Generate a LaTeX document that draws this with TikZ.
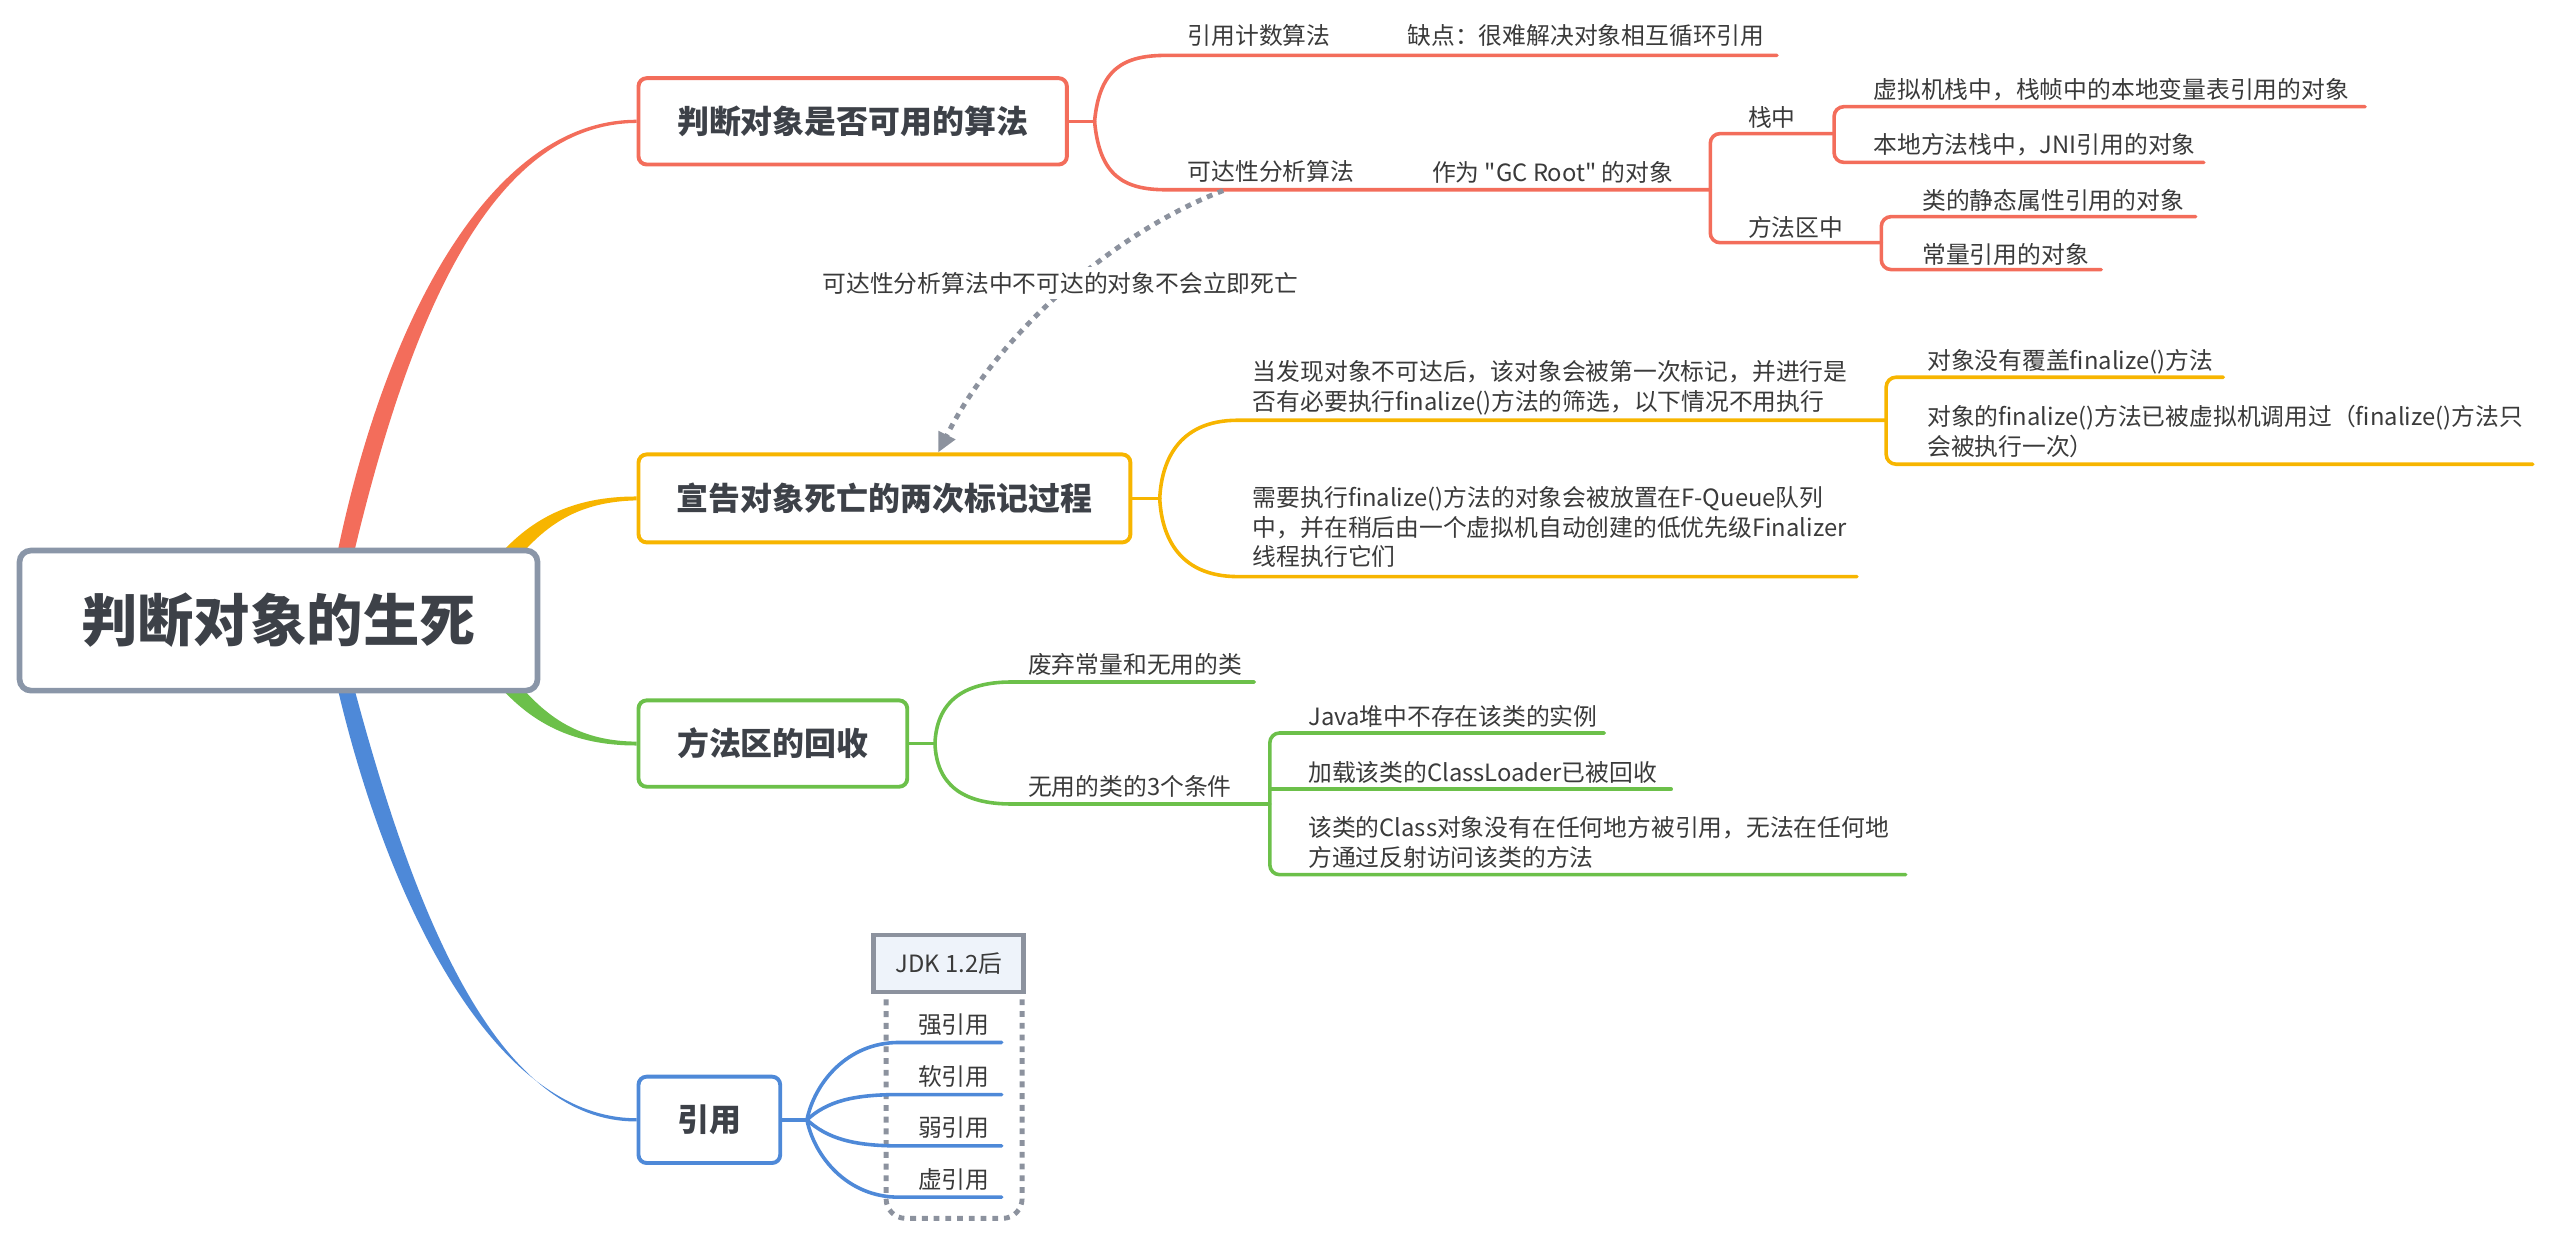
\documentclass[tikz,border=0pt]{standalone}
\usepackage{fontspec}
\setmainfont{Noto Sans CJK SC}[Ligatures=TeXOff]
\usetikzlibrary{calc,arrows.meta,positioning}
\pgfdeclarelayer{background}
\pgfsetlayers{background,main}
\definecolor{rootgray}{HTML}{8A96A8}
\definecolor{redb}{HTML}{F36D5B}
\definecolor{yellowb}{HTML}{F7B500}
\definecolor{greenb}{HTML}{6CC04A}
\definecolor{blueb}{HTML}{4E89D8}
\definecolor{boxtxt}{HTML}{3D4148}
\definecolor{txt}{HTML}{3A3A3A}
\definecolor{dotgray}{HTML}{8C929E}
\definecolor{jdkfill}{HTML}{EEF3FA}

\begin{document}
\begin{tikzpicture}[x=1pt,y=-1pt,
    every node/.style={text=txt,font=\fontsize{14.6}{18.3}\selectfont},
    topic/.style={draw,line width=2.4pt,rounded corners=5pt,fill=white,inner sep=0pt,
        text=boxtxt,font=\fontsize{19.6}{24}\selectfont\bfseries},
    leaf/.style={inner sep=0pt,anchor=west},
    para/.style={inner sep=0pt,anchor=west,align=left},
    link/.style={line width=2.2pt,line cap=round},
    dots/.style={dotgray,line width=3pt,dash pattern=on 3.6pt off 3.6pt}]
        \useasboundingbox (0,0) rectangle (1568,762.5);

        \node[topic,draw=rootgray,line width=3.5pt,rounded corners=7pt,minimum width=318pt,minimum height=86pt,
            font=\fontsize{34.6}{40}\selectfont\bfseries] (root) at (171,381) {判断对象的生死};
        \node[topic,draw=redb,minimum width=263pt,minimum height=53pt] (algo) at (523.5,74.5) {判断对象是否可用的算法};
        \node[topic,draw=yellowb,minimum width=302pt,minimum height=54pt] (mark) at (543,306) {宣告对象死亡的两次标记过程};
        \node[topic,draw=greenb,minimum width=165pt,minimum height=53pt] (method) at (474.5,456.5) {方法区的回收};
        \node[topic,draw=blueb,minimum width=87pt,minimum height=53pt] (ref) at (435.5,687.5) {引用};

        % main branches, thick at the root
        \begin{pgfonlayer}{background}
        \fill[redb] (206,380) -- (206,345) .. controls (235,200) and (300,73.5) .. ([yshift=1pt]algo.west)
            -- ([yshift=-1pt]algo.west) .. controls (300,76) and (250,200) .. (216,345) -- (216,380) -- cycle;
        \fill[yellowb] (303,360) -- (303,345) .. controls (325,318) and (352,304.8) .. ([yshift=1.2pt]mark.west)
            -- ([yshift=-1.2pt]mark.west) .. controls (355,308) and (335,322) .. (316,345) -- (316,360) -- cycle;
        \fill[greenb] (303,402) -- (303,417) .. controls (325,444) and (352,457.7) .. ([yshift=-1.2pt]method.west)
            -- ([yshift=1.2pt]method.west) .. controls (355,455) and (335,440) .. (316,417) -- (316,402) -- cycle;
        \fill[blueb] (206,382) -- (206,417) .. controls (235,545) and (300,686.5) .. ([yshift=1pt]ref.west)
            -- ([yshift=-1pt]ref.west) .. controls (300,689) and (250,545) .. (216,417) -- (216,382) -- cycle;
        \end{pgfonlayer}

        % algorithms
        \coordinate (algo-j) at (672,74.5);
        \coordinate (rc-a) at (716,34);
        \coordinate (rc-b) at (1091,34);
        \coordinate (ra-a) at (716,116.5);
        \coordinate (gc-j) at (1050,116.5);
        \draw[link,redb] (algo.east) -- (algo-j);
        \draw[link,redb] (algo-j) .. controls (675,42) and (690,34) .. (rc-a) -- (rc-b);
        \draw[link,redb] (algo-j) .. controls (675,108) and (690,116.5) .. (ra-a) -- (gc-j);
        \node[leaf] (rc) at (729,22) {引用计数算法};
        \node[leaf] (rcx) at (864,22) {缺点：很难解决对象相互循环引用};
        \node[leaf] (ra) at (729,105) {可达性分析算法};
        \node[leaf] (gc) at (879,106) {作为 "GC Root" 的对象};

        \coordinate (stk-b) at (1126,82);
        \coordinate (ma-b) at (1155,149);
        \draw[link,redb,rounded corners=6pt] (stk-b) -| (gc-j) |- (ma-b);
        \node[leaf] (stk) at (1073,72) {栈中};
        \node[leaf] (ma) at (1073,139.5) {方法区中};

        \coordinate (vm-b) at (1452,65.5);
        \coordinate (jni-b) at (1353,99.7);
        \draw[link,redb,rounded corners=6pt] (vm-b) -| (stk-b) |- (jni-b);
        \node[leaf] (vm) at (1150,55) {虚拟机栈中，栈帧中的本地变量表引用的对象};
        \node[leaf] (jni) at (1150,89) {本地方法栈中，JNI引用的对象};

        \coordinate (sta-b) at (1348,133);
        \coordinate (cst-b) at (1290,165.5);
        \draw[link,redb,rounded corners=6pt] (sta-b) -| (ma-b) |- (cst-b);
        \node[leaf] (sta) at (1180,123) {类的静态属性引用的对象};
        \node[leaf] (cst) at (1180,156) {常量引用的对象};

        % unreachable -> marking
        \coordinate (ra-d) at (751,117);
        \draw[dots,-{Triangle[length=12pt,width=11pt]}] (ra-d) .. controls (690,140) and (615,200) .. ([xshift=33pt]mark.north);
        \node[fill=white,inner sep=3pt] (note) at (651,174) {可达性分析算法中不可达的对象不会立即死亡};

        % marking twice
        \coordinate (mark-j) at (712,306);
        \coordinate (t1-a) at (760,258);
        \coordinate (t1-b) at (1158,258);
        \coordinate (t3-a) at (760,354);
        \coordinate (t3-b) at (1140,354);
        \draw[link,yellowb] (mark.east) -- (mark-j);
        \draw[link,yellowb] (mark-j) .. controls (713,285) and (722,258) .. (t1-a) -- (t1-b);
        \draw[link,yellowb] (mark-j) .. controls (713,327) and (722,354) .. (t3-a) -- (t3-b);
        \node[para] (t1) at (769,238) {当发现对象不可达后，该对象会被第一次标记，并进行是\\否有必要执行finalize()方法的筛选，以下情况不用执行};
        \node[para] (t3) at (769,323.5) {需要执行finalize()方法的对象会被放置在F-Queue队列\\中，并在稍后由一个虚拟机自动创建的低优先级Finalizer\\线程执行它们};

        \coordinate (nf-b) at (1365,231.6);
        \coordinate (fc-b) at (1555,285);
        \draw[link,yellowb,rounded corners=6pt] (nf-b) -| (t1-b) |- (fc-b);
        \node[leaf] (nf) at (1183,222) {对象没有覆盖finalize()方法};
        \node[para] (fc) at (1183,265) {对象的finalize()方法已被虚拟机调用过（finalize()方法只\\会被执行一次）};

        % method area
        \coordinate (method-j) at (574,456.5);
        \coordinate (dis-a) at (621,418.7);
        \coordinate (dis-b) at (770,418.7);
        \coordinate (cls-a) at (621,493.6);
        \coordinate (cls-b) at (779.6,493.6);
        \draw[link,greenb] (method.east) -- (method-j);
        \draw[link,greenb] (method-j) .. controls (575,432) and (590,418.7) .. (dis-a) -- (dis-b);
        \draw[link,greenb] (method-j) .. controls (575,481) and (590,493.6) .. (cls-a) -- (cls-b);
        \node[leaf] (dis) at (631,408) {废弃常量和无用的类};
        \node[leaf] (cls) at (631,483) {无用的类的3个条件};

        \coordinate (heap-b) at (985,450);
        \coordinate (loader-a) at (779.6,484.5);
        \coordinate (loader-b) at (1026,484.5);
        \coordinate (refl-b) at (1170,537);
        \draw[link,greenb,rounded corners=6pt] (heap-b) -| (cls-b) |- (refl-b);
        \draw[link,greenb] (loader-a) -- (loader-b);
        \node[leaf] (heap) at (803,440) {Java堆中不存在该类的实例};
        \node[leaf] (loader) at (803,474) {加载该类的ClassLoader已被回收};
        \node[para] (refl) at (803,517) {该类的Class对象没有在任何地方被引用，无法在任何地\\方通过反射访问该类的方法};

        % references
        \draw[dots,rounded corners=12pt] (544,592) -- (544,748) -- (627.5,748) -- (627.5,592);
        \node[draw=dotgray,line width=3pt,fill=jdkfill,minimum width=92pt,minimum height=35pt,inner sep=0pt] (jdk) at (582.5,591.5) {JDK 1.2后};

        \coordinate (ref-j) at (495.4,687.5);
        \coordinate (s-b) at (615,640);
        \coordinate (so-b) at (615,672);
        \coordinate (w-b) at (615,703.5);
        \coordinate (p-b) at (615,735);
        \draw[link,blueb] (ref.east) -- (ref-j);
        \draw[link,blueb] (ref-j) .. controls (500,665) and (520,640) .. (552,640) -- (s-b);
        \draw[link,blueb] (ref-j) .. controls (508,676) and (524,672) .. (552,672) -- (so-b);
        \draw[link,blueb] (ref-j) .. controls (508,699) and (524,703.5) .. (552,703.5) -- (w-b);
        \draw[link,blueb] (ref-j) .. controls (500,710) and (520,735) .. (552,735) -- (p-b);
        \node[inner sep=0pt] (strong) at (585.6,629) {强引用};
        \node[inner sep=0pt] (soft) at (585.6,661) {软引用};
        \node[inner sep=0pt] (weak) at (585.6,692.6) {弱引用};
        \node[inner sep=0pt] (phantom) at (585.6,724) {虚引用};
\end{tikzpicture}
\end{document}
